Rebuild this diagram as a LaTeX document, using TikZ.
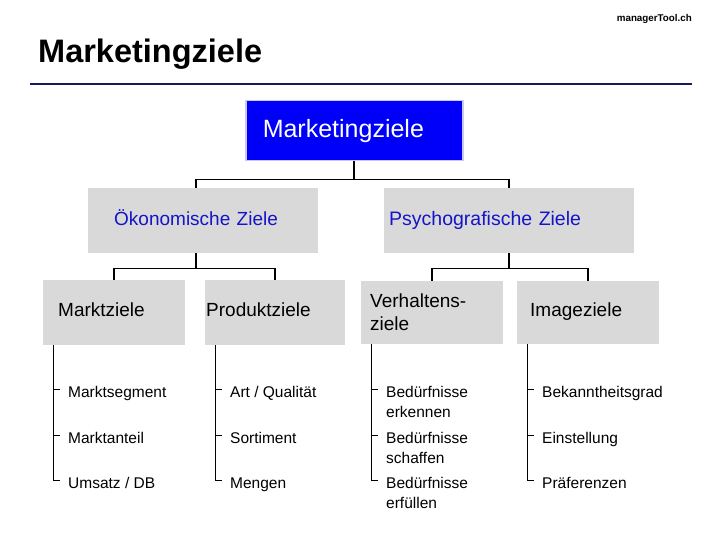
\documentclass[tikz,border=0pt]{standalone}
\usepackage{fontspec}
\setmainfont{Liberation Sans}
\usepackage{tikz}
\usetikzlibrary{calc, positioning}
\definecolor{boxgrey}{RGB}{217,217,217}
\definecolor{topblue}{RGB}{0,0,250}
\definecolor{topedge}{RGB}{200,200,240}
\definecolor{zieltext}{RGB}{20,20,200}
\definecolor{navy}{RGB}{25,25,95}
\tikzset{
    zbox/.style={fill=boxgrey, anchor=north west, inner ysep=0pt, align=left, text depth=5.5pt, font=\fontsize{19}{23}\selectfont},% grey boxes
    conn/.style={line width=1.6pt},
    leaf/.style={line width=0.8pt},
    item/.style={anchor=north west, inner sep=0pt, align=left, font=\fontsize{15.5}{20}\selectfont},
}

\begin{document}
\begin{tikzpicture}[x=1pt, y=-1pt]
            \useasboundingbox[fill=white] (0,0) rectangle (720,540);

            % header
            \node[anchor=base east, inner sep=0pt, font=\bfseries\fontsize{9.8}{12}\selectfont] (site) at (692,22) {managerTool.ch};
            \node[anchor=base west, inner sep=0pt, font=\bfseries\fontsize{32.5}{36}\selectfont] (title) at (38,63) {Marketingziele};
            \draw[navy, line width=1.4pt] (30,84) -- (692,84);

            % top box
            \node[anchor=north west, fill=topblue, draw=topedge, line width=1.5pt, text=white, minimum height=60pt, text width=183pt, inner xsep=17pt, inner ysep=0pt, align=left, font=\fontsize{25}{30}\selectfont] (top) at (245,100) {Marketingziele};

            % second level
            \node[zbox, minimum height=65pt, text width=178pt, inner xsep=26pt, text=zieltext] (oek) at (88,188) {Ökonomische Ziele};
            \node[zbox, minimum height=65pt, text width=240pt, inner xsep=5pt, text=zieltext, font=\fontsize{19.5}{23}\selectfont] (psy) at (384,188) {Psychografische Ziele};

            % third level
            \node[zbox, minimum height=65pt, text width=112pt, inner xsep=15pt] (markt) at (43,280) {Marktziele};
            \node[zbox, minimum height=65pt, text width=138pt, inner xsep=1pt] (prod) at (205,280) {Produktziele};
            \node[zbox, text depth={}, minimum height=63pt, text width=124pt, inner xsep=9pt] (verh) at (361,281) {Verhaltens-\\ziele};
            \node[zbox, minimum height=63pt, text width=116pt, inner xsep=13pt] (image) at (517,281) {Imageziele};

            % connectors
            \draw[conn] (top.south) -- ++(0,18) -| ([xshift=-7pt]oek.north);
            \draw[conn] (top.south) -- ++(0,18) -| (psy.north);
            \draw[conn] ([xshift=-7pt]oek.south) -- ++(0,15) -| (markt.north);
            \draw[conn] ([xshift=-7pt]oek.south) -- ++(0,15) -| (prod.north);
            \draw[conn] (psy.south) -- ++(0,15) -| (verh.north);
            \draw[conn] (psy.south) -- ++(0,15) -| (image.north);

            % leaves
            \foreach \txt [count=\k] in {Marktsegment, Marktanteil, Umsatz / DB} {
                \node[item] (markt-\k) at ($(markt.south west)+(25,-4.5+45.5*\k)$) {\txt};
            }
            \foreach \txt [count=\k] in {Art / Qualität, Sortiment, Mengen} {
                \node[item] (prod-\k) at ($(prod.south west)+(25,-4.5+45.5*\k)$) {\txt};
            }
            \foreach \txt [count=\k] in {{Bedürfnisse\\erkennen}, {Bedürfnisse\\schaffen}, {Bedürfnisse\\erfüllen}} {
                \node[item] (verh-\k) at ($(verh.south west)+(25,-3.5+45.5*\k)$) {\txt};
            }
            \foreach \txt [count=\k] in {Bekanntheitsgrad, Einstellung, Präferenzen} {
                \node[item] (image-\k) at ($(image.south west)+(25,-3.5+45.5*\k)$) {\txt};
            }
            \foreach \col in {markt, prod, verh, image} {
                \coordinate (\col-l) at ($(\col.south west)+(10,0)$);
                \foreach \k in {1,2,3} {
                    \coordinate (\col-t\k) at ($(\col-\k.north west)+(-8,3)$);
                }
                \draw[leaf] (\col-l) |- (\col-t3);
                \draw[leaf] (\col-l |- \col-t1) -- (\col-t1);
                \draw[leaf] (\col-l |- \col-t2) -- (\col-t2);
            }
        \end{tikzpicture}
\end{document}
